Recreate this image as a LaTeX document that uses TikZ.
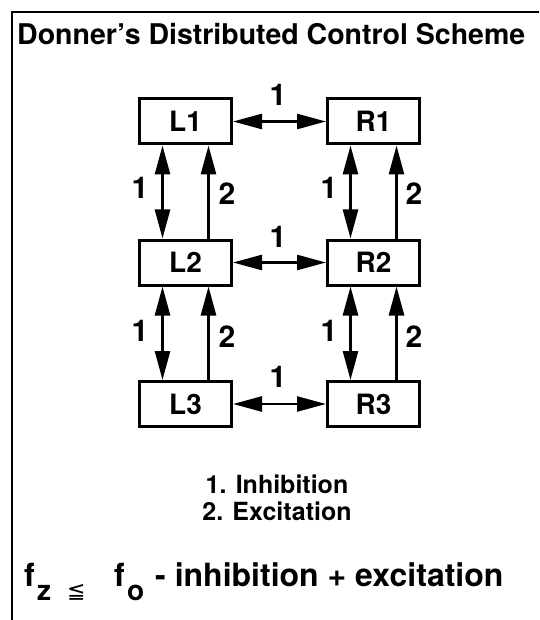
\documentclass[tikz,border=0pt]{standalone}
\usepackage{fontspec}
\setmainfont{TeX Gyre Heros}[BoldFont={TeX Gyre Heros Bold}]
\newfontfamily\symfont{DejaVu Sans}
\usetikzlibrary{arrows.meta}
\begin{document}
\begin{tikzpicture}[x=1pt,y=-1pt,
  box/.style={draw, line width=3pt, minimum width=92pt, minimum height=45pt, inner sep=0pt,
              font=\fontsize{28}{28}\selectfont\bfseries},
  lnk/.style={line width=2.6pt},
  dbl/.style={lnk, {Triangle[length=29pt,width=15pt]}-{Triangle[length=29pt,width=15pt]}},
  exc/.style={lnk, -{Triangle[length=29pt,width=15pt]}},
  num/.style={font=\fontsize{30}{30}\selectfont\bfseries, inner sep=0pt},
  txt/.style={inner sep=0pt},
]
\useasboundingbox (0,0) rectangle (539,620);
% frame
\coordinate (fbl) at (12,620);
\coordinate (ftl) at (12,12);
\coordinate (ftr) at (539,12);
\draw[line width=2pt] (fbl) -- (ftl) -- (ftr);
% title
\node[txt, anchor=base west, font=\fontsize{28.5}{28.5}\selectfont\bfseries] (title) at (17,45) {Donner's Distributed Control Scheme};
% boxes
\node[box] (L1) at (185.5,121.5) {L1};
\node[box] (R1) at (373.5,121.5) {R1};
\node[box] (L2) at (185.5,262.5) {L2};
\node[box] (R2) at (373.5,262.5) {R2};
\node[box] (L3) at (185.5,404) {L3};
\node[box] (R3) at (373.5,404) {R3};
% horizontal inhibition
\draw[dbl] (L1) -- (R1);
\draw[dbl] (L2) -- (R2);
\draw[dbl] (L3) -- (R3);
% vertical
\foreach \a/\b in {L1/L2,L2/L3,R1/R2,R2/R3}{
  \draw[dbl] ([xshift=-23pt]\a.south) -- ([xshift=-23pt]\b.north);
  \draw[exc] ([xshift=23pt]\b.north) -- ([xshift=23pt]\a.south);
}
% labels
\node[num] (h1) at (278,95) {1};
\node[num] (h2) at (278,237) {1};
\node[num] (h3) at (278,377) {1};
\node[num] (vl1) at (140,188) {1};
\node[num] (vl2) at (227,194) {2};
\node[num] (vr1) at (329,188) {1};
\node[num] (vr2) at (414,194) {2};
\node[num] (vl3) at (140,331) {1};
\node[num] (vl4) at (227,337) {2};
\node[num] (vr3) at (329,331) {1};
\node[num] (vr4) at (414,337) {2};
% legend
\node[txt, anchor=base, font=\fontsize{25}{25}\selectfont\bfseries] (leg1) at (277,493) {1. Inhibition};
\node[txt, anchor=base, font=\fontsize{25}{25}\selectfont\bfseries] (leg2) at (277,520) {2. Excitation};
% formula
\begin{scope}[every node/.style={txt, anchor=base west, font=\fontsize{32}{32}\selectfont\bfseries}]
\node (f1) at (24,586) {f};
\node[font=\fontsize{28}{28}\selectfont\bfseries] (z1) at (37,600) {z};
\node[font=\fontsize{22}{22}\selectfont\symfont] (le) at (67,598) {≦};
\node (f2) at (114,586) {f};
\node[font=\fontsize{28}{28}\selectfont\bfseries] (o1) at (127,600) {o};
\node (rest) at (155,586) {- inhibition + excitation};
\end{scope}
\end{tikzpicture}
\end{document}
